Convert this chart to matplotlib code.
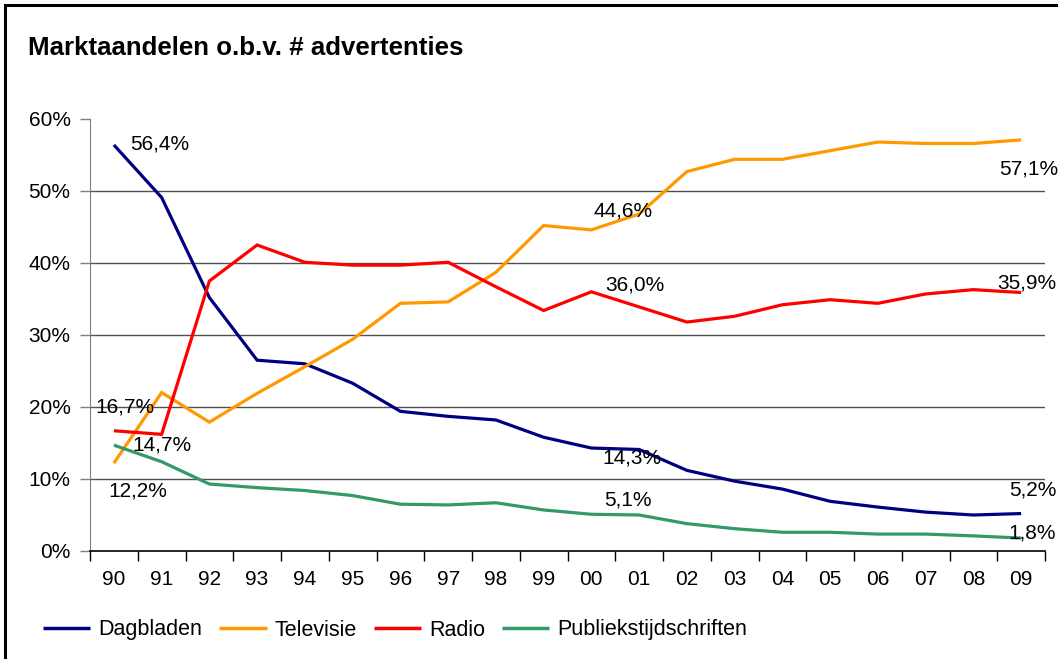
import matplotlib
matplotlib.use("Agg")
import matplotlib.pyplot as plt
from matplotlib.patches import Rectangle
from matplotlib.ticker import FixedLocator, NullFormatter, FixedFormatter

plt.rcParams['font.family'] = ['Liberation Sans', 'DejaVu Sans']

years = ["90", "91", "92", "93", "94", "95", "96", "97", "98", "99",
         "00", "01", "02", "03", "04", "05", "06", "07", "08", "09"]
dagbladen = [56.4, 49.1, 35.2, 26.5, 26.0, 23.3, 19.4, 18.7, 18.2, 15.8,
             14.3, 14.1, 11.2, 9.7, 8.6, 6.9, 6.1, 5.4, 5.0, 5.2]
televisie = [12.2, 22.0, 17.9, 21.9, 25.6, 29.4, 34.4, 34.6, 38.7, 45.2,
             44.6, 46.8, 52.7, 54.4, 54.4, 55.6, 56.8, 56.6, 56.6, 57.1]
radio = [16.7, 16.2, 37.5, 42.5, 40.1, 39.7, 39.7, 40.1, 36.7, 33.4,
         36.0, 33.9, 31.8, 32.6, 34.2, 34.9, 34.4, 35.7, 36.3, 35.9]
publiek = [14.7, 12.4, 9.3, 8.8, 8.4, 7.7, 6.5, 6.4, 6.7, 5.7,
           5.1, 5.0, 3.8, 3.1, 2.6, 2.6, 2.35, 2.35, 2.1, 1.8]

series_names = ["Dagbladen", "Televisie", "Radio", "Publiekstijdschriften"]
colors = ["#000080", "#FF9900", "#FF0000", "#339966"]
y_ticks = [0, 10, 20, 30, 40, 50, 60]

W, H = 1058, 659
fig = plt.figure(figsize=(W / 100, H / 100), dpi=100)
fig.patch.set_facecolor("white")
ax = fig.add_axes([90 / W, 1 - 551 / H, (1045 - 90) / W, (551 - 119) / H])

x = list(range(len(years)))
all_series = [dagbladen, televisie, radio, publiek]
for vals, name, c in zip(all_series, series_names, colors):
    ax.plot(x, [v / 100 for v in vals], color=c, lw=2.3, label=name,
            solid_joinstyle="miter", solid_capstyle="butt", zorder=3)

ax.set_xlim(-0.5, len(years) - 0.5)
ax.set_ylim(0, 0.6)

# y axis
ax.set_yticks([t / 100 for t in y_ticks])
ax.set_yticklabels([f"{t}%" for t in y_ticks])
ax.tick_params(axis="y", direction="out", length=7, width=1, color="#808080",
               labelsize=15, pad=7)
for t in y_ticks[1:-1]:
    ax.axhline(t / 100, color="#505050", lw=1, zorder=1)

# x axis: ticks at boundaries, labels at categories
ax.xaxis.set_major_locator(FixedLocator([i - 0.5 for i in range(len(years) + 1)]))
ax.xaxis.set_major_formatter(NullFormatter())
ax.xaxis.set_minor_locator(FixedLocator(x))
ax.xaxis.set_minor_formatter(FixedFormatter(years))
ax.tick_params(axis="x", which="major", direction="out", length=7, width=1, color="black")
ax.tick_params(axis="x", which="minor", length=0, labelsize=15, pad=14)

for s in ["top", "right"]:
    ax.spines[s].set_visible(False)
ax.spines["left"].set_color("#808080")
ax.spines["bottom"].set_color("black")
ax.spines["bottom"].set_linewidth(1.2)
ax.set_facecolor("white")

def fmt(v):
    return f"{v:.1f}".replace(".", ",") + "%"

# data labels: (series, index, dx px, dy px, ha)
labels = [
    (dagbladen, 0, 16, 1, "left"),
    (radio, 0, 11, 24, "center"),
    (publiek, 0, 18, 0, "left"),
    (televisie, 0, 24, -28, "center"),
    (televisie, 10, 32, 19, "center"),
    (radio, 10, 43, 7, "center"),
    (dagbladen, 10, 41, -10, "center"),
    (publiek, 10, 37, 14, "center"),
    (televisie, 19, 8, -29, "center"),
    (radio, 19, 6, 10, "center"),
    (dagbladen, 19, 12, 24, "center"),
    (publiek, 19, 11, 5, "center"),
]
for vals, i, dx, dy, ha in labels:
    ax.annotate(fmt(vals[i]), (x[i], vals[i] / 100), xytext=(dx, dy),
                textcoords="offset pixels", ha=ha, va="center", fontsize=15,
                color="black", annotation_clip=False, zorder=5)

fig.text(28 / W, 1 - 48 / H, "Marktaandelen o.b.v. # advertenties",
         fontsize=18.6, fontweight="bold", ha="left", va="center")

leg = fig.legend(loc="center left", bbox_to_anchor=(43 / W, 1 - 630 / H), ncol=4,
                 frameon=False, fontsize=15.5, handlelength=2.2, handletextpad=0.36,
                 columnspacing=0.8, borderaxespad=0, borderpad=0)
for line in leg.get_lines():
    line.set_linewidth(2.5)

fig.add_artist(Rectangle((4.5 / W, -0.1), 1.2, 1.1 - 4.5 / H, transform=fig.transFigure,
                         fill=False, edgecolor="black", lw=2.2))

fig.savefig("out.png", dpi=100, facecolor="white")
